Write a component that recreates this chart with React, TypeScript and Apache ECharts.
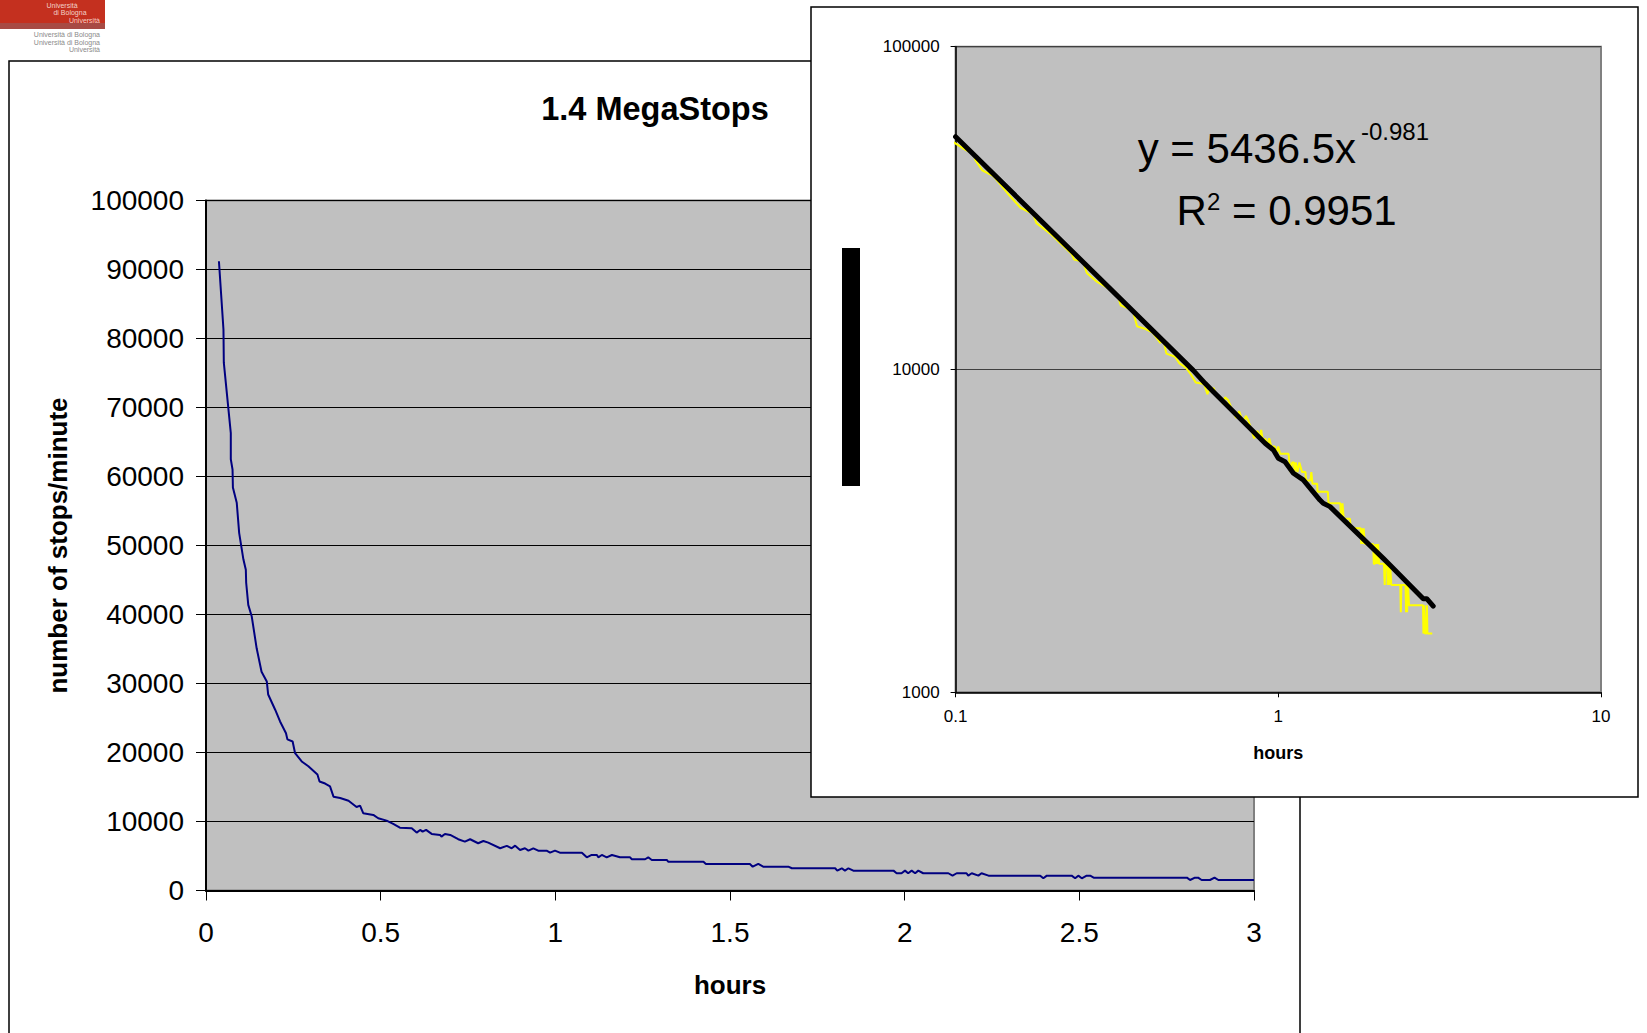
import React, { useEffect, useRef } from "react";
import * as echarts from "echarts";

const FONT = "'Liberation Sans', Arial, Helvetica, sans-serif";

// Main chart: hours vs number of stops/minute
const mainHours = [
  0.037, 0.050, 0.051, 0.071, 0.071, 0.076, 0.077, 0.088, 0.095, 0.107,
  0.114, 0.115, 0.121, 0.131, 0.145, 0.159, 0.174, 0.178, 0.198, 0.212,
  0.229, 0.233, 0.248, 0.255, 0.274, 0.293, 0.319, 0.325, 0.341, 0.355,
  0.365, 0.384, 0.408, 0.431, 0.441, 0.450, 0.479, 0.493, 0.517, 0.536,
  0.555, 0.589, 0.603, 0.613, 0.620, 0.630, 0.646, 0.670, 0.674, 0.684,
  0.699, 0.722, 0.741, 0.756, 0.779, 0.794, 0.808, 0.842, 0.861, 0.875,
  0.885, 0.899, 0.913, 0.923, 0.937, 0.951, 0.975, 0.985, 0.999, 1.013,
  1.076, 1.090, 1.104, 1.119, 1.123, 1.133, 1.147, 1.162, 1.185, 1.214,
  1.219, 1.257, 1.266, 1.276, 1.319, 1.323, 1.424, 1.431, 1.557, 1.565,
  1.581, 1.595, 1.667, 1.677, 1.801, 1.807, 1.820, 1.829, 1.839, 1.853,
  1.968, 1.977, 1.991, 2.001, 2.010, 2.020, 2.030, 2.039, 2.053, 2.125,
  2.137, 2.149, 2.177, 2.182, 2.192, 2.211, 2.220, 2.240, 2.388, 2.397,
  2.407, 2.478, 2.488, 2.497, 2.507, 2.521, 2.531, 2.541, 2.808, 2.817,
  2.831, 2.840, 2.850, 2.874, 2.887, 2.898, 3.000,
];
const mainStops = [
  91200, 81300, 76500, 66300, 62500, 61000, 58400, 56200, 51800, 48000,
  46500, 44600, 41400, 39700, 35100, 31700, 30300, 28400, 26200, 24500,
  22800, 21900, 21600, 19900, 18700, 18000, 16800, 15800, 15500, 15100,
  13600, 13400, 13000, 12100, 12300, 11200, 10950, 10470, 10130, 9650,
  9110, 9020, 8390, 8780, 8530, 8780, 8200, 8050, 7810, 8200,
  8050, 7430, 7080, 7430, 6850, 7180, 6940, 6120, 6460, 6120,
  6500, 5880, 6120, 5770, 6120, 5770, 5770, 5480, 5770, 5480,
  5480, 4810, 5150, 5150, 4810, 5150, 4810, 5150, 4810, 4810,
  4530, 4530, 4810, 4430, 4430, 4180, 4180, 3850, 3850, 3450,
  3850, 3450, 3450, 3220, 3220, 2880, 3220, 2880, 3220, 2880,
  2880, 2500, 2500, 2880, 2500, 2880, 2500, 2880, 2500, 2500,
  2150, 2500, 2500, 2150, 2500, 2150, 2500, 2150, 2150, 1770,
  2150, 2150, 1770, 2150, 1770, 2150, 2150, 1860, 1860, 1520,
  1860, 1860, 1520, 1520, 1860, 1520, 1520,
];

// Inset (log-log): black curve
const fitHours = [0.1, 0.545, 0.593, 0.629, 0.91, 0.966, 1.0, 1.049, 1.114, 1.195, 1.346, 1.378, 1.446, 2.115, 2.218, 2.813, 2.884, 3.02];
const fitStops = [52600, 9940, 9060, 8530, 5910, 5630, 5310, 5180, 4770, 4550, 3940, 3850, 3760, 2600, 2480, 1950, 1950, 1850];

// Axis ranges
const mainX = { min: 0, max: 3, interval: 0.5 };
const mainY = { min: 0, max: 100000, interval: 10000 };
const insetX = { min: 0.1, max: 10 };
const insetY = { min: 1000, max: 100000 };

const titleText = "1.4 MegaStops";
const yTitleText = "number of stops/minute";
const xTitleText = "hours";
const eqMain = "y = 5436.5x";
const eqExp = "-0.981";
const r2Value = "= 0.9951";

const fmt = (v: number) => String(Math.round(v * 1000) / 1000);

export default function App() {
  const ref = useRef<HTMLDivElement>(null);
  useEffect(() => {
    const chart = echarts.init(ref.current!, null, { renderer: "svg" });
    const mainData = mainHours.map((h, i) => [h, mainStops[i]]);
    const fitData = fitHours.map((h, i) => [h, fitStops[i]]);

    const txt = (x: number, y: number, text: string, size: number, opts: any = {}) => ({
      type: "text",
      z: opts.z ?? 20,
      x,
      y,
      rotation: opts.rotation ?? 0,
      style: {
        text,
        fontFamily: FONT,
        fontSize: size,
        fontWeight: opts.bold ? "bold" : "normal",
        fill: opts.fill ?? "#000",
        align: opts.align ?? "left",
        verticalAlign: "middle",
      },
    });

    chart.setOption({
      animation: false,
      backgroundColor: "#ffffff",
      textStyle: { fontFamily: FONT },
      grid: [
        {
          left: 206, top: 200.5, width: 1048, height: 690,
          show: true, backgroundColor: "#C0C0C0", borderColor: "#808080", borderWidth: 2, z: 1,
        },
        {
          left: 955.6, top: 46.7, width: 645.4, height: 645.6,
          show: true, backgroundColor: "#C0C0C0", borderColor: "#808080", borderWidth: 2, z: 11,
        },
      ],
      xAxis: [
        {
          gridIndex: 0, type: "value", ...mainX, z: 2,
          axisLine: { show: true, onZero: false, lineStyle: { color: "#000", width: 2 } },
          axisTick: { show: true, length: 10, lineStyle: { color: "#000", width: 1 } },
          axisLabel: { fontSize: 28, color: "#000", margin: 28, formatter: fmt, fontFamily: FONT },
          splitLine: { show: false },
          name: xTitleText, nameLocation: "middle", nameGap: 81,
          nameTextStyle: { fontSize: 26, fontWeight: "bold", color: "#000", fontFamily: FONT },
        },
        {
          gridIndex: 1, type: "log", logBase: 10, ...insetX, z: 12,
          axisLine: { show: true, onZero: false, lineStyle: { color: "#000", width: 1.5 } },
          axisTick: { show: true, length: 5, lineStyle: { color: "#000", width: 1 } },
          minorTick: { show: false },
          axisLabel: { fontSize: 17, color: "#000", margin: 16, formatter: fmt, fontFamily: FONT },
          splitLine: { show: false },
          name: xTitleText, nameLocation: "middle", nameGap: 52,
          nameTextStyle: { fontSize: 18, fontWeight: "bold", color: "#000", fontFamily: FONT },
        },
      ],
      yAxis: [
        {
          gridIndex: 0, type: "value", ...mainY, z: 2,
          axisLine: { show: true, onZero: false, lineStyle: { color: "#000", width: 2 } },
          axisTick: { show: true, length: 10, lineStyle: { color: "#000", width: 1 } },
          axisLabel: { fontSize: 28, color: "#000", margin: 22, formatter: fmt, fontFamily: FONT },
          splitLine: { show: true, lineStyle: { color: "#000", width: 1 } },
        },
        {
          gridIndex: 1, type: "log", logBase: 10, ...insetY, z: 12,
          axisLine: { show: true, onZero: false, lineStyle: { color: "#000", width: 1.5 } },
          axisTick: { show: true, length: 5, lineStyle: { color: "#000", width: 1 } },
          minorTick: { show: false },
          axisLabel: { fontSize: 17, color: "#000", margin: 16, formatter: fmt, fontFamily: FONT },
          splitLine: { show: true, lineStyle: { color: "#404040", width: 1 } },
        },
      ],
      series: [
        {
          type: "line", xAxisIndex: 0, yAxisIndex: 0, data: mainData, z: 3,
          showSymbol: false, symbol: "none",
          lineStyle: { color: "#000080", width: 2 },
        },
        {
          type: "line", xAxisIndex: 1, yAxisIndex: 1, data: mainData, z: 13,
          showSymbol: false, symbol: "none", clip: true,
          lineStyle: { color: "#FFFF00", width: 2 },
        },
        {
          type: "line", xAxisIndex: 1, yAxisIndex: 1, data: fitData, z: 14,
          showSymbol: false, symbol: "none", clip: true,
          lineStyle: { color: "#000000", width: 5, cap: "round", join: "round" },
        },
      ],
      graphic: {
        elements: [
          {
            type: "rect", z: 0,
            shape: { x: 9, y: 61, width: 1291, height: 1000 },
            style: { fill: "#ffffff", stroke: "#000", lineWidth: 1.5 },
          },
          // logo
          { type: "rect", z: 0, shape: { x: 0, y: 0, width: 105, height: 27 }, style: { fill: "#c4301f" } },
          { type: "rect", z: 0, shape: { x: 0, y: 23, width: 105, height: 6 }, style: { fill: "#a84a44" } },
          txt(62, 5, "Università", 7, { fill: "#f3d0c8", z: 1, align: "center" }),
          txt(70, 12, "di Bologna", 7, { fill: "#f3d0c8", z: 1, align: "center" }),
          txt(100, 20, "Università", 7, { fill: "#f3d0c8", z: 1, align: "right" }),
          txt(100, 34, "Università di Bologna", 7, { fill: "#8a8a8a", z: 1, align: "right" }),
          txt(100, 42, "Università di Bologna", 7, { fill: "#8a8a8a", z: 1, align: "right" }),
          txt(100, 49, "Università", 7, { fill: "#8a8a8a", z: 1, align: "right" }),
          // main titles
          txt(655, 109, titleText, 32.5, { bold: true, align: "center", z: 3 }),
          txt(58, 545.5, yTitleText, 26, { bold: true, align: "center", z: 3, rotation: Math.PI / 2 }),
          // inset box
          {
            type: "rect", z: 10,
            shape: { x: 811, y: 7, width: 827, height: 790 },
            style: { fill: "#ffffff", stroke: "#000", lineWidth: 1.5 },
          },
          { type: "rect", z: 10, shape: { x: 842, y: 248, width: 18, height: 238 }, style: { fill: "#000" } },
          // equation
          txt(1137.7, 148.6, eqMain, 42),
          txt(1361, 131.6, eqExp, 24),
          txt(1176.5, 210.3, "R", 42),
          txt(1207, 201.6, "2", 24),
          txt(1232, 210.3, r2Value, 42),
        ],
      },
    });
    return () => chart.dispose();
  }, []);
  return (
    <div
      ref={ref}
      style={{ position: "fixed", left: 0, top: 0, width: 1647, height: 1033, background: "#fff" }}
    />
  );
}
